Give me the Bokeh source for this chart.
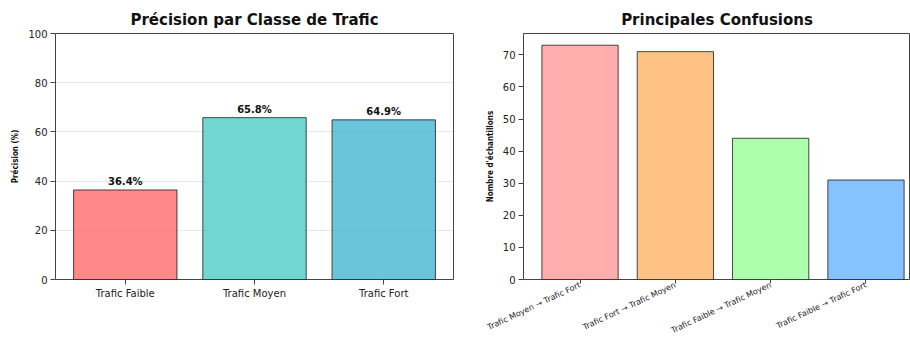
import math
from bokeh.plotting import figure
from bokeh.layouts import row
from bokeh.models import ColumnDataSource, FixedTicker
from bokeh.core.properties import value
from bokeh.embed import file_html
from bokeh.resources import INLINE

# ---- data ----
classes = ["Trafic Faible", "Trafic Moyen", "Trafic Fort"]
precision = [36.4, 65.8, 64.9]
class_colors = ["#FF6B6B", "#4ECDC4", "#45B7D1"]

confusions = ["Trafic Moyen → Trafic Fort", "Trafic Fort → Trafic Moyen",
              "Trafic Faible → Trafic Moyen", "Trafic Faible → Trafic Fort"]
conf_counts = [73, 71, 44, 31]
conf_colors = ["#FF9999", "#FFB366", "#99FF99", "#66B3FF"]

FONT = "DejaVu Sans"
LABEL_FONT = "'DejaVu Sans Condensed', 'DejaVu Sans'"
H = 342


def style(p, title_offset=0):
    p.title.text_font = FONT
    p.title.text_font_size = "15px"
    p.title.text_font_style = "bold"
    p.title.align = "center"
    p.title.offset = title_offset
    p.title.standoff = 10
    p.title.text_color = "#111111"
    p.outline_line_color = "#444444"
    p.outline_line_width = 1
    for ax in (p.xaxis, p.yaxis):
        ax.axis_line_color = None
        ax.major_tick_line_color = "#444444"
        ax.major_tick_out = 5
        ax.major_tick_in = 0
        ax.minor_tick_line_color = None
        ax.major_label_text_font = FONT
        ax.major_label_text_font_size = "10px"
        ax.major_label_text_color = "#222222"
        ax.major_label_standoff = 3
        ax.axis_label_text_font = LABEL_FONT
        ax.axis_label_text_font_size = "8px"
        ax.axis_label_text_font_style = "bold"
        ax.axis_label_text_color = "#111111"
        ax.axis_label_standoff = 5
    p.xgrid.grid_line_color = None


# ---- left chart ----
xs1 = list(range(len(classes)))
src1 = ColumnDataSource(dict(
    x=xs1, top=precision, color=class_colors,
    ly=[v + 1 for v in precision],
    lab=[f"{v:.1f}%" for v in precision],
))
p1 = figure(width=470, height=H, x_range=(-0.54, 2.54), y_range=(0, 100),
            output_backend="svg", toolbar_location=None,
            title="Précision par Classe de Trafic",
            min_border_left=55, min_border_right=17,
            min_border_top=33, min_border_bottom=63)
p1.vbar(x="x", top="top", width=0.8, bottom=0, source=src1,
        fill_color="color", fill_alpha=0.8,
        line_color="black", line_alpha=0.7, line_width=1)
p1.text(x="x", y="ly", text="lab", source=src1,
        text_font=value(FONT), text_font_style="bold",
        text_font_size="10px", text_align="center",
        text_baseline="bottom", text_color="#111111")
style(p1)
p1.xaxis.ticker = FixedTicker(ticks=xs1)
p1.xaxis.major_label_overrides = {i: c for i, c in enumerate(classes)}
p1.yaxis.ticker = FixedTicker(ticks=[0, 20, 40, 60, 80, 100])
p1.yaxis.axis_label = "Précision (%)"
p1.ygrid.ticker = FixedTicker(ticks=[0, 20, 40, 60, 80, 100])
p1.ygrid.grid_line_color = "#b0b0b0"
p1.ygrid.grid_line_alpha = 0.3

# ---- right chart ----
xs2 = list(range(len(confusions)))
src2 = ColumnDataSource(dict(x=xs2, top=conf_counts, color=conf_colors))
p2 = figure(width=440, height=H, x_range=(-0.593, 3.467),
            y_range=(0, max(conf_counts) * 1.05),
            output_backend="svg", toolbar_location=None,
            title="Principales Confusions",
            min_border_left=53, min_border_right=0,
            min_border_top=33, min_border_bottom=63)
p2.vbar(x="x", top="top", width=0.8, bottom=0, source=src2,
        fill_color="color", fill_alpha=0.8,
        line_color="black", line_alpha=0.7, line_width=1)
style(p2, title_offset=6)
p2.xaxis.ticker = FixedTicker(ticks=xs2)
p2.xaxis.major_label_overrides = {i: c for i, c in enumerate(confusions)}
p2.xaxis.major_label_orientation = 0.44
p2.xaxis.major_label_text_font_size = "8px"
p2.xaxis.major_tick_out = 4
p2.xaxis.major_label_standoff = 1
p2.yaxis.ticker = FixedTicker(ticks=[0, 10, 20, 30, 40, 50, 60, 70])
p2.yaxis.axis_label = "Nombre d'échantillons"
p2.ygrid.grid_line_color = None

layout = row(p1, p2)
open("out.html", "w").write(file_html(layout, INLINE))
